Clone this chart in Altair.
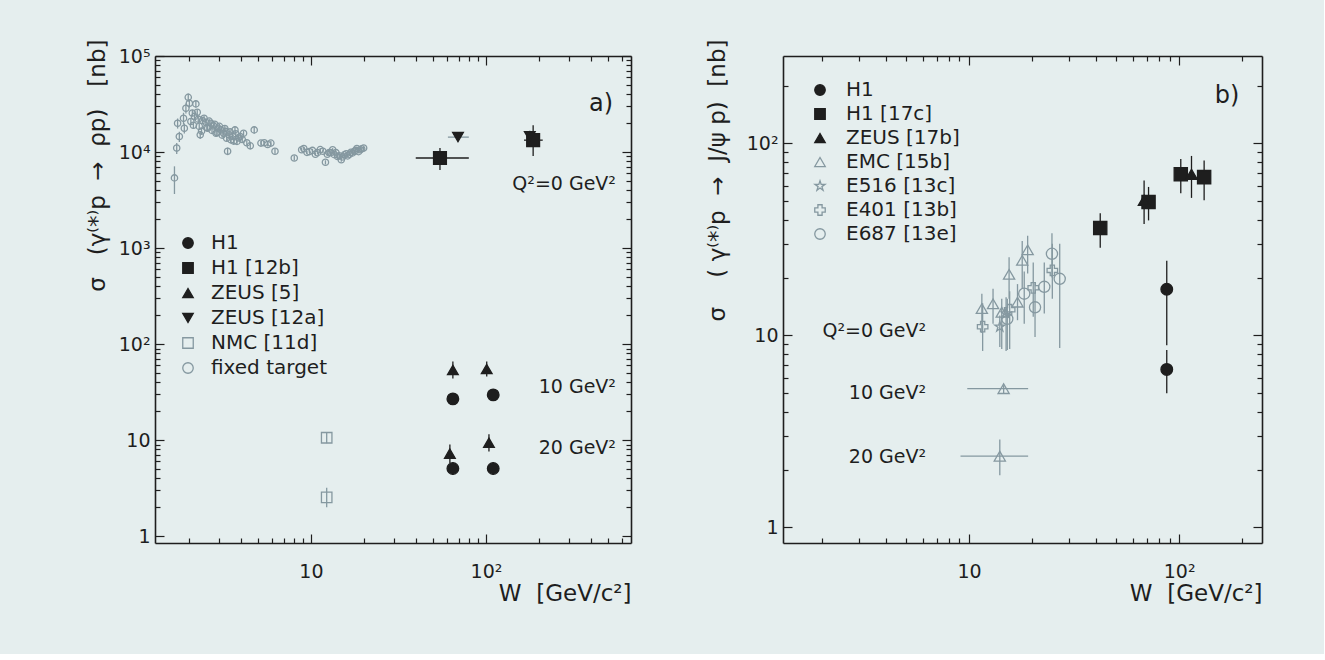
import altair as alt
import pandas as pd

FONT = "DejaVu Sans"
INK = "#1e1e1e"
GREY = "#8598a0"
BG = "#e5eeee"
SP = "\u00a0"  # non-breaking space keeps wide gaps in titles

STAR = ("M0,-1L0.2245,-0.309L0.9511,-0.309L0.3633,0.118L0.5878,0.809L0,0.382"
        "L-0.5878,0.809L-0.3633,0.118L-0.9511,-0.309L-0.2245,-0.309Z")

# ---------------- a) rho photo/electroproduction ----------------
A_SERIES = ["H1", "H1 [12b]", "ZEUS [5]", "ZEUS [12a]", "NMC [11d]", "fixed target"]
A_SHAPES = ["circle", "square", "triangle-up", "triangle-down", "square", "circle"]
A_FILLS = [INK, INK, INK, INK, "transparent", "transparent"]
A_STROKES = [INK, INK, INK, INK, GREY, GREY]
A_SIZES = [135, 165, 115, 115, 110, 40]

A_H1_W = [64.7, 110, 64.7, 110]
A_H1_S = [26.9, 29.6, 5.07, 5.07]
A_H1_LO = [23.8, 26.2, 4.35, 4.35]
A_H1_HI = [30.5, 33.5, 5.9, 5.9]

A_H1B_W = [54.6, 186]
A_H1B_S = [8670, 13300]
A_H1B_LO = [6490, 9100]
A_H1B_HI = [11000, 19000]
A_H1B_WLO = [39.7, 165]
A_H1B_WHI = [79.8, 211]

A_Z5_W = [64.7, 101, 62.2, 104]
A_Z5_S = [53.8, 55.0, 7.25, 9.4]
A_Z5_LO = [44, 46, 5.8, 7.6]
A_Z5_HI = [66, 66, 9.0, 11.5]

A_Z12_W = [69.2, 178]
A_Z12_S = [14300, 14600]
A_Z12_LO = [13200, 12500]
A_Z12_HI = [15400, 16800]
A_Z12_WLO = [60.6, None]
A_Z12_WHI = [79.8, None]

A_NMC_W = [12.3, 12.3]
A_NMC_S = [10.6, 2.54]
A_NMC_LO = [9.3, 2.0]
A_NMC_HI = [12.0, 3.2]

# fixed-target measurements (two compilations)
FT_W = [1.66, 1.71, 1.77, 1.73, 1.87, 1.89, 1.93, 1.99, 2.02, 2.06,
        2.16, 2.20, 2.27, 2.33, 2.40, 2.51, 2.57, 2.68, 2.78, 2.87,
        2.95, 3.06, 3.17, 3.27, 3.34, 3.41, 3.49, 3.57, 3.68, 3.78,
        3.94, 4.12, 4.50, 4.74, 5.18, 5.41, 5.66, 5.90, 6.23, 8.03,
        8.85, 9.49, 10.2, 10.9, 11.7, 12.1, 12.7, 13.3, 13.9, 14.5,
        14.9, 15.5, 16.2, 16.9, 17.7, 18.3, 19.1, 20.0]
FT_S = [5380, 11000, 14500, 19950, 22500, 17700, 28600, 37100, 32200, 20800,
        23400, 31700, 22000, 15100, 21300, 20300, 17700, 19950, 18700, 15700,
        17700, 17000, 15700, 16400, 10200, 15100, 13400, 14500, 17000, 12900,
        14500, 15700, 11600, 17000, 12400, 12500, 12000, 12400, 10200, 8670,
        10570, 9930, 10400, 9850, 10200, 7820, 9850, 10570, 9850, 9160,
        8320, 9350, 9120, 9930, 10200, 10900, 10570, 11000]
FT_ERR = [0.32, 0.13, 0.12, 0.12, 0.14, 0.12, 0.12, 0.10, 0.10, 0.08,
          0.08, 0.08, 0.07, 0.09, 0.07, 0.07, 0.07, 0.07, 0.06, 0.07,
          0.06, 0.06, 0.06, 0.06, 0.09, 0.06, 0.06, 0.06, 0.08, 0.07,
          0.06, 0.06, 0.07, 0.08, 0.06, 0.05, 0.05, 0.05, 0.06, 0.06,
          0.04, 0.04, 0.04, 0.04, 0.04, 0.05, 0.04, 0.04, 0.04, 0.04,
          0.05, 0.04, 0.04, 0.04, 0.04, 0.04, 0.04, 0.04]

FT2_W = [2.10, 2.13, 2.24, 2.30, 2.37, 2.45, 2.54, 2.62, 2.72, 2.82,
         2.91, 3.00, 3.11, 3.22, 3.30, 3.45, 3.62, 3.72, 3.85, 4.05,
         4.30, 9.1, 9.8, 10.6, 11.3, 12.4, 13.0, 13.6, 14.2, 15.2,
         15.9, 16.6, 17.3, 18.0, 18.7, 19.5]
FT2_S = [25500, 19000, 26000, 18500, 16500, 22500, 18000, 21000, 16800, 19500,
         16000, 18500, 15000, 17600, 13900, 16200, 13000, 15500, 14000, 13500,
         12500, 10900, 10100, 9500, 10600, 9500, 9900, 9400, 9000, 8900,
         9600, 9500, 9800, 10400, 10100, 10800]
FT2_ERR = [0.08, 0.08, 0.07, 0.07, 0.07, 0.07, 0.06, 0.06, 0.06, 0.06,
           0.06, 0.06, 0.06, 0.06, 0.07, 0.06, 0.07, 0.06, 0.06, 0.06,
           0.06, 0.04, 0.04, 0.04, 0.04, 0.04, 0.04, 0.04, 0.04, 0.04,
           0.04, 0.04, 0.04, 0.04, 0.04, 0.04]

A_NOTES = ["Q²=0 GeV²", "10 GeV²", "20 GeV²"]
A_NOTE_W = [553, 553, 553]
A_NOTE_S = [4660, 35.8, 8.36]
A_TAG, A_TAG_W, A_TAG_S = "a)", 454, 31400

# ---------------- b) J/psi photo/electroproduction ----------------
B_SERIES = ["H1", "H1 [17c]", "ZEUS [17b]", "EMC [15b]", "E516 [13c]", "E401 [13b]", "E687 [13e]"]
B_SHAPES = ["circle", "square", "triangle-up", "triangle-up", STAR, "cross", "circle"]
B_FILLS = [INK, INK, INK, "transparent", "transparent", "transparent", "transparent"]
B_STROKES = [INK, INK, INK, GREY, GREY, GREY, GREY]
B_SIZES = [135, 175, 135, 125, 110, 110, 125]

B_H1_W = [87.3, 87.3]
B_H1_S = [17.4, 6.65]
B_H1_LO = [8.9, 5.0]
B_H1_HI = [24.5, 8.4]

B_H1C_W = [42.1, 71.5, 101.8, 131.5]
B_H1C_S = [36.2, 49.5, 69.0, 66.7]
B_H1C_LO = [28.6, 39.7, 55.0, 50.5]
B_H1C_HI = [43.2, 59.3, 83.0, 81.5]

B_ZEUS_W = [68.1, 114.5]
B_ZEUS_S = [50.5, 69.0]
B_ZEUS_LO = [38.0, 52.0]
B_ZEUS_HI = [64.0, 86.0]

B_EMC_W = [11.5, 13.0, 14.3, 15.5, 17.0, 17.9, 19.0, 14.6, 14.0]
B_EMC_S = [13.8, 14.6, 13.2, 20.8, 14.9, 24.6, 27.9, 5.28, 2.35]
B_EMC_LO = [10.3, 11.5, 8.5, 15.5, 12.0, 17.5, 21.0, 5.0, 1.87]
B_EMC_HI = [16.5, 17.5, 15.5, 25.5, 18.5, 31.0, 33.0, 5.5, 2.87]
B_EMC_WLO = [None, None, None, None, None, None, None, 9.8, 9.1]
B_EMC_WHI = [None, None, None, None, None, None, None, 19.1, 19.1]

B_E516_W = [14.0, 15.0]
B_E516_S = [11.1, 13.0]
B_E516_LO = [8.7, 8.3]
B_E516_HI = [12.7, 15.8]

B_E401_W = [11.6, 15.6, 20.2, 24.9]
B_E401_S = [11.1, 13.6, 17.7, 21.8]
B_E401_LO = [8.3, 8.5, 12.5, 15.5]
B_E401_HI = [14.7, 17.0, 24.0, 30.0]

B_E687_W = [15.2, 18.3, 20.6, 22.8, 24.8, 27.0]
B_E687_S = [12.2, 16.5, 14.0, 17.9, 26.6, 19.7]
B_E687_LO = [8.4, 11.5, 9.8, 13.0, 20.0, 8.6]
B_E687_HI = [15.5, 21.5, 18.7, 24.0, 34.0, 30.0]

B_NOTES = ["Q²=0 GeV²", "10 GeV²", "20 GeV²"]
B_NOTE_W = [6.24, 6.24, 6.24]
B_NOTE_S = [10.5, 4.99, 2.34]
B_TAG, B_TAG_W, B_TAG_S = "b)", 169, 176

# axis ticks and labels
A_X_MAJOR, A_X_LABELS = [10, 100], ["10", "10²"]
A_X_MINOR = [2, 3, 4, 5, 6, 7, 8, 9, 20, 30, 40, 50, 60, 70, 80, 90, 200, 300, 400, 500, 600]
A_Y_MAJOR = [1, 10, 100, 1000, 10000, 100000]
A_Y_LABELS = ["1", "10", "10²", "10³", "10⁴", "10⁵"]
A_Y_MINOR = [m * d for d in [1, 10, 100, 1000, 10000] for m in range(2, 10)]

B_X_MAJOR, B_X_LABELS = [10, 100], ["10", "10²"]
B_X_MINOR = [2, 3, 4, 5, 6, 7, 8, 9, 20, 30, 40, 50, 60, 70, 80, 90, 200]
B_Y_MAJOR = [1, 10, 100]
B_Y_LABELS = ["1", "10", "10²"]
B_Y_MINOR = [2, 3, 4, 5, 6, 7, 8, 9, 20, 30, 40, 50, 60, 70, 80, 90, 200]

X_TITLE = "W" + SP * 2 + "[GeV/c²]"
A_Y_TITLE = "σ" + SP * 3 + "(γ⁽*⁾p" + SP * 2 + "→" + SP * 2 + "ρp)" + SP * 3 + "[nb]"
B_Y_TITLE = ("σ" + SP * 4 + "(" + SP + "γ⁽*⁾p" + SP * 2 + "→" + SP * 2
             + "J/ψ" + SP + "p)" + SP * 2 + "[nb]")


def rows(series, size, ws, ss, los, his, ecol, wlos=None, whis=None):
    out = []
    for i, (w, s, lo, hi) in enumerate(zip(ws, ss, los, his)):
        out.append({
            "series": series, "W": w, "S": s, "lo": lo, "hi": hi,
            "wlo": None if wlos is None else wlos[i],
            "whi": None if whis is None else whis[i],
            "size": size, "ecol": ecol,
        })
    return out


def label_expr(values, labels):
    expr = "''"
    for v, t in reversed(list(zip(values, labels))):
        expr = f"datum.value == {v} ? '{t}' : ({expr})"
    return expr


def panel(df, notes, tag, series, shapes, fills, strokes, xdom, ydom, w, h,
          x_major, x_labels, x_minor, y_major, y_labels, y_minor,
          ytitle, ytitle_x, leg_x, leg_y, leg_row, leg_off):
    xs = alt.Scale(type="log", domain=xdom, nice=False)
    ys = alt.Scale(type="log", domain=ydom, nice=False)
    base = alt.Chart(df)

    vbar = base.transform_filter("isValid(datum.lo)").mark_rule(strokeWidth=1.3).encode(
        x=alt.X("W:Q", scale=xs, axis=None),
        y=alt.Y("lo:Q", scale=ys, axis=None), y2="hi:Q",
        color=alt.Color("ecol:N", scale=None))
    hbar = base.transform_filter("isValid(datum.wlo)").mark_rule(strokeWidth=1.3).encode(
        x=alt.X("wlo:Q", scale=xs, axis=None), x2="whi:Q",
        y=alt.Y("S:Q", scale=ys, axis=None),
        color=alt.Color("ecol:N", scale=None))

    leg = alt.Legend(orient="none", legendX=leg_x, legendY=leg_y, title=None,
                     symbolSize=110, symbolStrokeWidth=1.3, labelFont=FONT,
                     labelFontSize=20, labelColor=INK, rowPadding=leg_row,
                     labelOffset=leg_off, padding=0)
    x_axis = alt.Axis(values=x_major, labelExpr=label_expr(x_major, x_labels),
                      ticks=False, tickSize=0, domain=False, grid=False,
                      labelPadding=19, labelFontSize=19, labelFont=FONT, labelColor=INK,
                      title=X_TITLE, titleFont=FONT, titleFontSize=23,
                      titleFontWeight="normal", titleColor=INK, titleX=w, titleY=50,
                      titleAlign="right", titleBaseline="middle")
    y_axis = alt.Axis(values=y_major, labelExpr=label_expr(y_major, y_labels),
                      ticks=False, tickSize=0, domain=False, grid=False,
                      labelPadding=5, labelFontSize=19, labelFont=FONT, labelColor=INK,
                      title=ytitle, titleFont=FONT, titleFontSize=23,
                      titleFontWeight="normal", titleColor=INK, titleX=ytitle_x, titleY=-17,
                      titleAngle=270, titleAlign="right", titleBaseline="middle")
    pts = base.mark_point(filled=True, strokeWidth=1.3, opacity=1).encode(
        x=alt.X("W:Q", scale=xs, axis=x_axis),
        y=alt.Y("S:Q", scale=ys, axis=y_axis),
        shape=alt.Shape("series:N", scale=alt.Scale(domain=series, range=shapes), legend=leg),
        fill=alt.Fill("series:N", scale=alt.Scale(domain=series, range=fills), legend=leg),
        stroke=alt.Stroke("series:N", scale=alt.Scale(domain=series, range=strokes), legend=leg),
        size=alt.Size("size:Q", scale=None))

    note_layer = alt.Chart(notes).mark_text(
        align="right", baseline="middle", font=FONT, fontSize=19, color=INK).encode(
        x=alt.X("W:Q", scale=xs, axis=None), y=alt.Y("S:Q", scale=ys, axis=None),
        text="text:N")
    tag_layer = alt.Chart(tag).mark_text(
        align="center", baseline="middle", font=FONT, fontSize=24, color=INK).encode(
        x=alt.X("W:Q", scale=xs, axis=None), y=alt.Y("S:Q", scale=ys, axis=None),
        text="text:N")

    def ticks(xv, yv, size, xorient, yorient, frame):
        return base.mark_point(opacity=0).encode(
            x=alt.X("W:Q", scale=xs, axis=alt.Axis(
                orient=xorient, offset=-h, values=xv, tickSize=size, labels=False,
                domain=frame, domainColor=INK, domainWidth=1.6,
                grid=False, title=None, tickColor=INK, tickWidth=1.2)),
            y=alt.Y("S:Q", scale=ys, axis=alt.Axis(
                orient=yorient, offset=-w, values=yv, tickSize=size, labels=False,
                domain=frame, domainColor=INK, domainWidth=1.6,
                grid=False, title=None, tickColor=INK, tickWidth=1.2)))

    inner = [
        ticks(x_major, y_major, 9, "top", "right", True),
        ticks(x_minor, y_minor, 5, "top", "right", False),
        ticks(x_major, y_major, 9, "bottom", "left", True),
        ticks(x_minor, y_minor, 5, "bottom", "left", False),
    ]
    return alt.layer(vbar, hbar, pts, note_layer, tag_layer, *inner).resolve_axis(
        x="independent", y="independent").properties(width=w, height=h)


a_rows = (rows("H1", A_SIZES[0], A_H1_W, A_H1_S, A_H1_LO, A_H1_HI, INK)
          + rows("H1 [12b]", A_SIZES[1], A_H1B_W, A_H1B_S, A_H1B_LO, A_H1B_HI, INK, A_H1B_WLO, A_H1B_WHI)
          + rows("ZEUS [5]", A_SIZES[2], A_Z5_W, A_Z5_S, A_Z5_LO, A_Z5_HI, INK)
          + rows("ZEUS [12a]", A_SIZES[3], A_Z12_W, A_Z12_S, A_Z12_LO, A_Z12_HI, GREY, A_Z12_WLO, A_Z12_WHI)
          + rows("NMC [11d]", A_SIZES[4], A_NMC_W, A_NMC_S, A_NMC_LO, A_NMC_HI, GREY)
          + rows("fixed target", A_SIZES[5], FT_W, FT_S,
                 [s * (1 - e) for s, e in zip(FT_S, FT_ERR)],
                 [s * (1 + e) for s, e in zip(FT_S, FT_ERR)], GREY)
          + rows("fixed target", A_SIZES[5], FT2_W, FT2_S,
                 [s * (1 - e) for s, e in zip(FT2_S, FT2_ERR)],
                 [s * (1 + e) for s, e in zip(FT2_S, FT2_ERR)], GREY))
df_a = pd.DataFrame(a_rows)

b_rows = (rows("H1", B_SIZES[0], B_H1_W, B_H1_S, B_H1_LO, B_H1_HI, INK)
          + rows("H1 [17c]", B_SIZES[1], B_H1C_W, B_H1C_S, B_H1C_LO, B_H1C_HI, INK)
          + rows("ZEUS [17b]", B_SIZES[2], B_ZEUS_W, B_ZEUS_S, B_ZEUS_LO, B_ZEUS_HI, INK)
          + rows("EMC [15b]", B_SIZES[3], B_EMC_W, B_EMC_S, B_EMC_LO, B_EMC_HI, GREY, B_EMC_WLO, B_EMC_WHI)
          + rows("E516 [13c]", B_SIZES[4], B_E516_W, B_E516_S, B_E516_LO, B_E516_HI, GREY)
          + rows("E401 [13b]", B_SIZES[5], B_E401_W, B_E401_S, B_E401_LO, B_E401_HI, GREY)
          + rows("E687 [13e]", B_SIZES[6], B_E687_W, B_E687_S, B_E687_LO, B_E687_HI, GREY))
df_b = pd.DataFrame(b_rows)

notes_a = pd.DataFrame({"text": A_NOTES, "W": A_NOTE_W, "S": A_NOTE_S})
notes_b = pd.DataFrame({"text": B_NOTES, "W": B_NOTE_W, "S": B_NOTE_S})
tag_a = pd.DataFrame({"text": [A_TAG], "W": [A_TAG_W], "S": [A_TAG_S]})
tag_b = pd.DataFrame({"text": [B_TAG], "W": [B_TAG_W], "S": [B_TAG_S]})

panel_a = panel(df_a, notes_a, tag_a, A_SERIES, A_SHAPES, A_FILLS, A_STROKES,
                [1.285, 674], [0.85, 100000], 476, 487,
                A_X_MAJOR, A_X_LABELS, A_X_MINOR, A_Y_MAJOR, A_Y_LABELS, A_Y_MINOR,
                A_Y_TITLE, -58, 23, 177, 5, 13)
panel_b = panel(df_b, notes_b, tag_b, B_SERIES, B_SHAPES, B_FILLS, B_STROKES,
                [1.30, 248], [0.83, 285], 479, 487,
                B_X_MAJOR, B_X_LABELS, B_X_MINOR, B_Y_MAJOR, B_Y_LABELS, B_Y_MINOR,
                B_Y_TITLE, -66, 27, 24, 4, 16)

chart = alt.hconcat(panel_a, panel_b, spacing=72).resolve_scale(
    shape="independent", fill="independent", stroke="independent",
    color="independent", size="independent"
).properties(
    background=BG,
    padding={"left": 85, "top": 38, "right": 60, "bottom": 48},
).configure_view(stroke=INK, strokeWidth=1.5).configure(font=FONT)

chart.save("out.html", embed_options={"renderer": "svg", "actions": False})
